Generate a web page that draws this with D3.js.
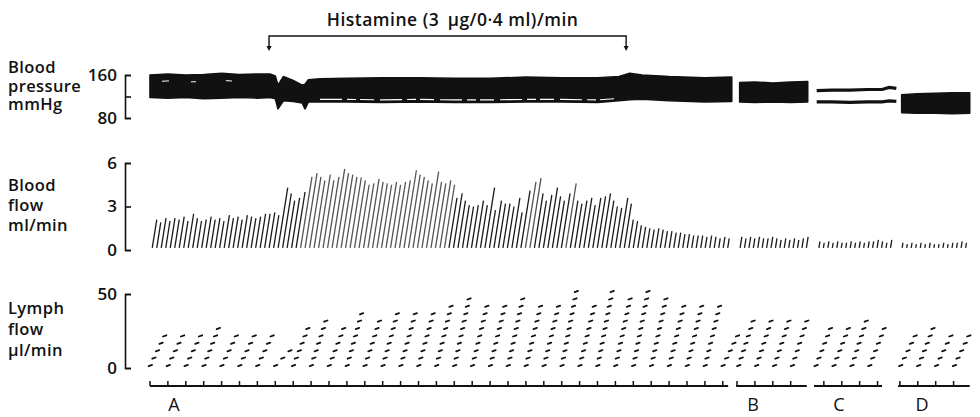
<!DOCTYPE html>
<html>
<head>
<meta charset="utf-8">
<script src="https://cdn.jsdelivr.net/npm/d3@7"></script>
<style>
body { margin: 0; background: #fff; }
svg text { font-family: "Open Sans", Lato, sans-serif; fill: #111; font-weight: 600; }
</style>
</head>
<body>
<div id="chart"></div>
<script>
// ---- data ----
let segments = ["A", "B", "C", "D"];
// length of time axis shown per strip (minutes) and where the minute marks fall
let axisFrom = [0, -0.05, 0, -0.05];
let axisTo = [32.3, 3.9, 3.8, 3.95];
let tickPhase = [0, 0, 0.55, 0.05];
let histamine = [6.65, 26.6]; // infusion period in strip A (min)

// blood pressure, mmHg (systolic / diastolic edge of the trace)
let bpTimeA = [0, 1, 2, 3, 4, 5, 6, 6.7, 7.0, 7.15, 7.45, 8.0, 8.5, 8.66, 8.85, 9.5, 11, 13, 15, 17, 19, 21, 23, 25, 26.2, 26.8, 27.5, 29, 31, 32.5];
let bpSysA = [160, 162, 160, 161, 163, 161, 162, 162, 158, 141, 157, 150, 141, 143, 151, 153, 154, 155, 155, 154, 154, 156, 155, 155, 157, 163, 160, 157, 155, 156];
let bpDiaA = [118, 117, 118, 116, 117, 118, 117, 118, 116, 97, 112, 111, 108, 97, 110, 110, 110, 109, 110, 109, 109, 110, 110, 109, 112, 114, 115, 112, 110, 111];
let bpTimeB = [0.15, 1, 2, 3, 3.95];
let bpSysB = [146, 147, 145, 147, 148];
let bpDiaB = [110, 109, 110, 109, 110];
let bpTimeC = [0.15, 1, 2, 3, 3.8, 4.2, 4.6];
let bpSysC = [131, 132, 132, 133, 133, 137, 135];
let bpDiaC = [110, 110, 109, 110, 110, 112, 111];
let bpTimeD = [0.15, 1, 2, 3, 3.95];
let bpSysD = [123, 125, 126, 127, 127];
let bpDiaD = [90, 89, 89, 88, 89];

// blood flow, ml/min: peak of each outflow stroke
let flowSpan = [[0, 32.4], [0.05, 4.0], [0.15, 4.4], [0.05, 3.85]];
let flowA = [2.1, 1.9, 2.2, 2.0, 2.2, 2.1, 2.3, 2.0, 2.5, 2.2, 2.0, 2.1, 2.3, 2.1, 2.2, 2.0, 2.4, 2.2, 2.3, 2.1, 2.4, 2.3, 2.2, 2.3, 2.5, 2.5, 2.6, 2.4,
  4.3, 3.9, 3.4, 3.6, 4.0,
  5.05, 5.3, 5.05, 4.8, 5.2, 4.8, 5.05, 5.6, 5.3, 5.2, 5.05, 5.0, 4.8, 4.5, 4.6, 4.9, 4.7, 4.6, 4.5, 4.7,
  4.5, 4.7, 4.8, 5.5, 5.2, 5.05, 4.8, 4.6, 5.4, 4.7, 4.6, 4.8, 4.5, 3.6, 3.9, 3.4, 3.1, 3.0, 3.1, 3.4,
  3.1, 4.3, 2.75, 3.4, 3.2, 3.2, 3.0, 3.6, 2.6, 4.1, 4.7, 4.95, 3.9, 3.4, 3.8, 4.3, 3.7, 3.4, 3.9, 4.6,
  3.4, 3.2, 3.4, 3.6, 3.1, 3.6, 3.7, 3.9, 3.4, 3.0, 2.9, 3.6, 3.2, 2.1, 2.0, 1.7, 1.6, 1.5, 1.4, 1.5,
  1.4, 1.3, 1.3, 1.2, 1.2, 1.1, 1.1, 1.0, 1.0, 1.0, 0.9, 1.0, 0.9, 0.8, 0.9, 0.8];
let flowB = [0.9, 0.8, 0.9, 0.8, 0.9, 0.8, 0.8, 0.9, 0.8, 0.7, 0.8, 0.7, 0.8, 0.7, 0.8, 0.9];
let flowC = [0.6, 0.5, 0.6, 0.5, 0.6, 0.5, 0.5, 0.6, 0.5, 0.6, 0.5, 0.6, 0.6, 0.7, 0.6, 0.5, 0.7];
let flowD = [0.5, 0.4, 0.5, 0.4, 0.5, 0.4, 0.5, 0.4, 0.4, 0.5, 0.4, 0.5, 0.5, 0.6, 0.5];
let flowBase = 0.15;

// lymph flow: drops counted in each minute (one drop = 5 µl)
let dropVol = 5;
let lymphPhase = [0.02, 0.1, 0.12, 0.1];
let lymphA = [4, 4, 4, 5, 4, 4, 4, 2, 5, 6, 5, 7, 6, 7, 7, 7, 8, 9, 8, 8, 9, 8, 8, 10, 8, 10, 9, 10, 9, 8, 8, 8, 4];
let lymphB = [6, 6, 6, 6];
let lymphC = [5, 5, 6, 5];
let lymphD = [4, 5, 4, 4];

// ---- layout ----
const W = 980, H = 417;
const minutePx = 17.9;
const segOrigin = [150, 737, 814, 899];
const labelX = [174, 753, 839, 922];
const axisX = 125;
const timeY = 386;
const ink = "#111";

let bpTable = [[bpTimeA, bpSysA, bpDiaA], [bpTimeB, bpSysB, bpDiaB], [bpTimeC, bpSysC, bpDiaC], [bpTimeD, bpSysD, bpDiaD]];
let flowTable = [flowA, flowB, flowC, flowD];
let lymphTable = [lymphA, lymphB, lymphC, lymphD];

let svg = d3.select("#chart").append("svg")
  .attr("width", W).attr("height", H)
  .style("background", "#fff");

let segX = segments.map((d, i) => d3.scaleLinear().domain([0, 1]).range([segOrigin[i], segOrigin[i] + minutePx]));

let yBP = d3.scaleLinear().domain([80, 160]).range([118, 75]);
let yFlow = d3.scaleLinear().domain([0, 6]).range([250, 163]);
let yLymph = d3.scaleLinear().domain([0, 50]).range([368, 294]);

// ---- left labels + bracket axes ----
function leftLabel(lines, y0, gap) {
  lines.forEach((s, i) => {
    svg.append("text").attr("x", 8).attr("y", y0 + i * gap)
      .style("font-size", "16.5px").style("letter-spacing", "0.4px").text(s);
  });
}
leftLabel(["Blood", "pressure", "mmHg"], 73, 18.5);
leftLabel(["Blood", "flow", "ml/min"], 191, 19.8);
leftLabel(["Lymph", "flow", "\u03bcl/min"], 314, 21);

function bracket(scale, ticks, labels) {
  let g = svg.append("g").attr("transform", `translate(${axisX},0)`);
  g.call(d3.axisRight(scale).tickValues(ticks).tickSize(6).tickSizeOuter(6).tickFormat(""));
  g.selectAll("path, line").attr("stroke", ink).attr("stroke-width", 1.6);
  let lg = svg.append("g").attr("transform", `translate(${axisX},0)`);
  lg.call(d3.axisLeft(scale).tickValues(labels).tickSize(0).tickPadding(8).tickFormat(d3.format("d")));
  lg.select(".domain").remove();
  lg.selectAll("text").style("font-size", "17px").style("font-family", "'Open Sans', sans-serif")
    .style("font-weight", 600).attr("fill", ink);
}
bracket(yBP, [80, 120, 160], [80, 160]);
bracket(yFlow, [0, 3, 6], [0, 3, 6]);
bracket(yLymph, [0, 50], [0, 50]);

// ---- histamine marker ----
let hx = histamine.map(t => segX[0](t));
svg.append("path")
  .attr("d", `M${hx[0]},48V36H${hx[1]}V48`)
  .attr("fill", "none").attr("stroke", ink).attr("stroke-width", 1.4);
hx.forEach(x => svg.append("path").attr("d", `M${x - 2.5},46L${x + 2.5},46L${x},51Z`).attr("fill", ink));
svg.append("text").attr("x", (hx[0] + hx[1]) / 2 + 5).attr("y", 26)
  .attr("text-anchor", "middle").style("font-size", "17.5px").style("letter-spacing", "0.5px")
  .text("Histamine (3 \u2009\u03bcg/0\u00b74 ml)/min");

// ---- blood pressure ----
bpTable.forEach((rows, s) => {
  let pts = rows[0].map((t, i) => ({ t: t, sys: rows[1][i], dia: rows[2][i] }));
  let x = segX[s];
  if (segments[s] === "C") {
    ["sys", "dia"].forEach(k => {
      svg.append("path").datum(pts)
        .attr("d", d3.line().x(d => x(d.t)).y(d => yBP(d[k])))
        .attr("fill", "none").attr("stroke", ink).attr("stroke-width", 3.2);
    });
  } else {
    svg.append("path").datum(pts)
      .attr("d", d3.area().x(d => x(d.t)).y0(d => yBP(d.dia)).y1(d => yBP(d.sys)))
      .attr("fill", ink).attr("stroke", ink).attr("stroke-width", 1.6).attr("stroke-linejoin", "round");
  }
  if (segments[s] === "A") {
    // white streaks in the pulse band
    let inner = pts.filter(d => d.t > 9 && d.t < 26.5);
    svg.append("path").datum(inner)
      .attr("d", d3.line().x(d => x(d.t)).y(d => yBP(d.dia) - 2.5))
      .attr("fill", "none").attr("stroke", "#fff").attr("stroke-width", 1.1)
      .attr("stroke-dasharray", "22 5 9 4 14 6");
    let early = pts.filter(d => d.t < 6.8);
    svg.append("path").datum(early)
      .attr("d", d3.line().x(d => x(d.t)).y(d => yBP(d.sys) + 7))
      .attr("fill", "none").attr("stroke", "#fff").attr("stroke-width", 1)
      .attr("stroke-dasharray", "0 12 7 22 5 30 6 40");
  }
});

// ---- blood flow strokes ----
const slant = 0.16;
flowTable.forEach((peaks, s) => {
  let x = segX[s];
  let [f0, f1] = flowSpan[s];
  let step = (f1 - f0) / peaks.length;
  svg.append("g").selectAll("line").data(peaks).enter().append("line")
    .attr("x1", (d, i) => x(f0 + (i + 0.5) * step))
    .attr("y1", yFlow(flowBase))
    .attr("x2", (d, i) => x(f0 + (i + 0.5) * step) + slant * (yFlow(flowBase) - yFlow(d)))
    .attr("y2", d => yFlow(d))
    .attr("stroke", d => d > 4.4 ? "#555" : "#1a1a1a")
    .attr("stroke-width", 1.3);
});

// ---- lymph drops ----
lymphTable.forEach((drops, s) => {
  let x = segX[s];
  let marks = [];
  drops.forEach((n, i) => {
    for (let k = 0; k <= n; k++) {
      marks.push({ t: i + lymphPhase[s] + 0.8 * k / Math.max(n, 1), v: k * dropVol });
    }
  });
  svg.append("g").selectAll("path").data(marks).enter().append("path")
    .attr("d", d => {
      let cx = x(d.t), cy = yLymph(d.v) - 2.5;
      return `M${cx - 1.7},${cy + 0.6}L${cx + 1.7},${cy - 0.6}`;
    })
    .attr("stroke", ink).attr("stroke-width", 1.8).attr("stroke-linecap", "round");
});

// ---- time marker strips ----
segments.forEach((name, s) => {
  let x = segX[s];
  let g = svg.append("g");
  g.append("line")
    .attr("x1", x(axisFrom[s])).attr("x2", x(axisTo[s]))
    .attr("y1", timeY).attr("y2", timeY)
    .attr("stroke", ink).attr("stroke-width", 2);
  let ticks = d3.range(Math.ceil(axisFrom[s] - tickPhase[s]), axisTo[s] - tickPhase[s] + 0.01)
    .map(k => k + tickPhase[s]);
  g.selectAll(".tick").data(ticks).enter().append("line")
    .attr("x1", d => x(d)).attr("x2", d => x(d))
    .attr("y1", timeY).attr("y2", timeY - 5)
    .attr("stroke", ink).attr("stroke-width", 1.5);
  svg.append("text").attr("x", labelX[s]).attr("y", 411)
    .attr("text-anchor", "middle").style("font-size", "18px").style("font-weight", 500).text(name);
});
</script>
</body>
</html>
